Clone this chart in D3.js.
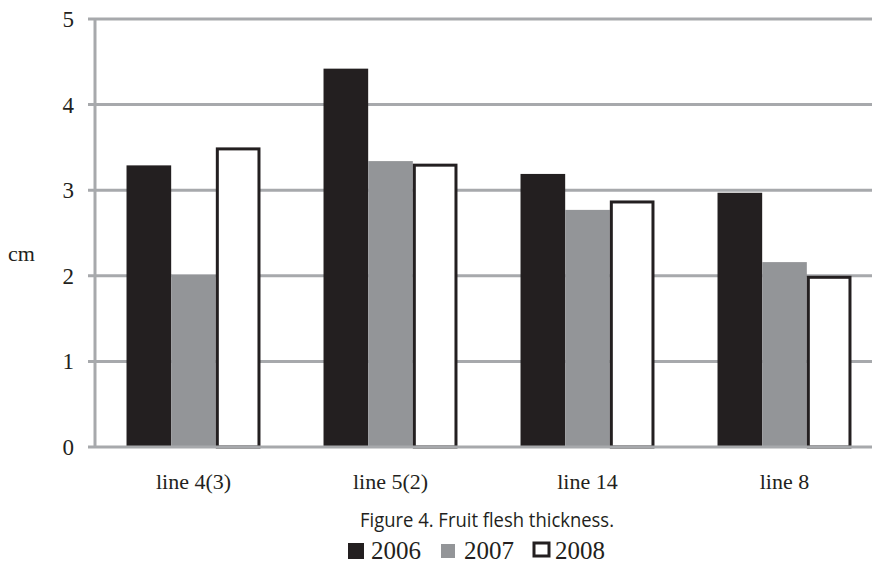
<!DOCTYPE html>
<html>
<head>
<meta charset="utf-8">
<script src="https://cdn.jsdelivr.net/npm/d3@7"></script>
<style>
  body { margin: 0; background: #fff; }
  svg { display: block; }
  .serif { font-family: "Liberation Serif", "Times New Roman", Times, serif; }
  .sans { font-family: "Open Sans", "Noto Sans", sans-serif; }
</style>
</head>
<body>
<svg id="chart"></svg>
<script>
// Chart data
const categories = ["line 4(3)", "line 5(2)", "line 14", "line 8"];
const years = ["2006", "2007", "2008"];
const values2006 = [3.29, 4.42, 3.19, 2.97];
const values2007 = [2.01, 3.34, 2.77, 2.16];
const values2008 = [3.50, 3.31, 2.88, 2.00];
const yTicks = [0, 1, 2, 3, 4, 5];

const series = [values2006, values2007, values2008];

const width = 872, height = 568;
const gridColor = "#a7a9ac";
const fills = ["#231f20", "#939598", "#ffffff"];

const svg = d3.select("#chart")
    .attr("width", width)
    .attr("height", height);

const x = d3.scaleBand()
    .domain(categories)
    .range([95, 883])
    .paddingInner(0.32)
    .paddingOuter(0.16);

const xInner = d3.scaleBand()
    .domain(years)
    .range([0, x.bandwidth()]);

const y = d3.scaleLinear()
    .domain([0, 5])
    .range([447, 19]);

// Gridlines
svg.append("g")
    .selectAll("line")
    .data(yTicks.filter(d => d > 0))
    .join("line")
    .attr("x1", 88)
    .attr("x2", width)
    .attr("y1", d => y(d))
    .attr("y2", d => y(d))
    .attr("stroke", gridColor)
    .attr("stroke-width", 3);

// Y axis line
svg.append("line")
    .attr("x1", 95).attr("x2", 95)
    .attr("y1", y(5)).attr("y2", y(0))
    .attr("stroke", gridColor)
    .attr("stroke-width", 3);

// Bars
const groups = svg.append("g")
    .selectAll("g")
    .data(categories)
    .join("g")
    .attr("transform", d => `translate(${x(d)},0)`);

groups.selectAll("rect")
    .data((d, i) => years.map((yr, j) => ({ yr, j, v: series[j][i] })))
    .join("rect")
    .attr("x", d => d.j === 2 ? xInner(d.yr) + 1.5 : xInner(d.yr))
    .attr("width", d => d.j === 2 ? xInner.bandwidth() - 3 : xInner.bandwidth())
    .attr("y", d => d.j === 2 ? y(d.v) + 1.5 : y(d.v))
    .attr("height", d => d.j === 2 ? y(0) - y(d.v) - 1.5 : y(0) - y(d.v))
    .attr("fill", d => fills[d.j])
    .attr("stroke", d => d.j === 2 ? "#231f20" : "none")
    .attr("stroke-width", 3);

// Baseline
svg.append("line")
    .attr("x1", 88).attr("x2", width)
    .attr("y1", y(0)).attr("y2", y(0))
    .attr("stroke", gridColor)
    .attr("stroke-width", 3);

// Y tick labels
svg.append("g")
    .selectAll("text")
    .data(yTicks)
    .join("text")
    .attr("class", "serif")
    .attr("x", 74)
    .attr("y", d => y(d) + 8)
    .attr("text-anchor", "end")
    .attr("font-size", 23)
    .attr("fill", "#231f20")
    .text(d => d);

svg.append("text")
    .attr("class", "serif")
    .attr("x", 8)
    .attr("y", 261)
    .attr("font-size", 22)
    .attr("fill", "#231f20")
    .text("cm");

// X labels
svg.append("g")
    .selectAll("text")
    .data(categories)
    .join("text")
    .attr("class", "serif")
    .attr("x", d => x(d) + x.bandwidth() / 2)
    .attr("y", 489)
    .attr("text-anchor", "middle")
    .attr("font-size", 22)
    .attr("fill", "#231f20")
    .text(d => d);

// Caption
svg.append("text")
    .attr("class", "sans")
    .attr("x", 487)
    .attr("y", 527)
    .attr("text-anchor", "middle")
    .attr("font-size", 20)
    .attr("textLength", 254)
    .attr("lengthAdjust", "spacingAndGlyphs")
    .attr("fill", "#231f20")
    .text("Figure 4. Fruit flesh thickness.");

// Legend
const legendX = [348, 441, 534];
const legend = svg.append("g")
    .selectAll("g")
    .data(years)
    .join("g")
    .attr("transform", (d, i) => `translate(${legendX[i]},0)`);

legend.append("rect")
    .attr("x", 0)
    .attr("y", (d, i) => i === 1 ? 544 : 543)
    .attr("width", (d, i) => i === 1 ? 14 : (i === 2 ? 15 : 16))
    .attr("height", (d, i) => i === 1 ? 14 : (i === 2 ? 13 : 16))
    .attr("fill", (d, i) => fills[i])
    .attr("stroke", (d, i) => i === 2 ? "#231f20" : "none")
    .attr("stroke-width", 3);

legend.append("text")
    .attr("class", "serif")
    .attr("x", (d, i) => i === 2 ? 21 : 23)
    .attr("y", 559)
    .attr("font-size", 25)
    .attr("fill", "#231f20")
    .text(d => d);
</script>
</body>
</html>
